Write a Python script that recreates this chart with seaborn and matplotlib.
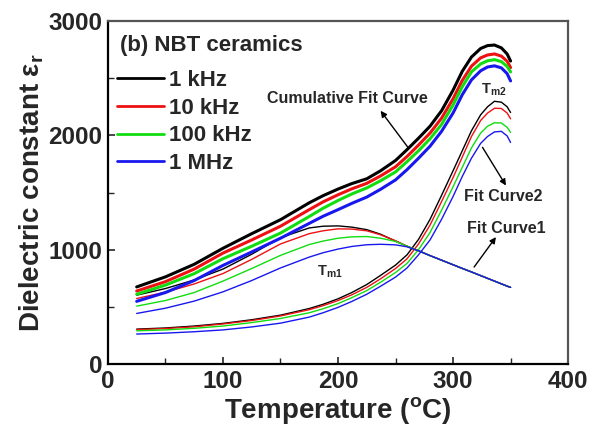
import matplotlib
matplotlib.use("Agg")
import matplotlib.pyplot as plt
import seaborn as sns
import pandas as pd
from matplotlib.lines import Line2D
from matplotlib.ticker import MultipleLocator

# ---------------- data ----------------
temperature = [25, 50, 75, 100, 125, 150, 175, 187, 200, 212, 225, 237, 250,
               260, 270, 280, 290, 300, 308, 316, 324, 330, 336, 342, 347, 350]

frequencies = ["1 kHz", "10 kHz", "100 kHz", "1 MHz"]

cum_1k   = [674, 762, 872, 1012, 1140, 1262, 1410, 1472, 1530, 1578, 1620, 1690, 1780, 1875, 1975, 2080, 2215, 2395, 2560, 2685, 2760, 2785, 2790, 2765, 2712, 2650]
cum_10k  = [638, 720, 830, 970, 1085, 1205, 1350, 1418, 1480, 1532, 1580, 1645, 1725, 1815, 1915, 2020, 2150, 2320, 2480, 2605, 2678, 2703, 2712, 2693, 2648, 2593]
cum_100k = [610, 690, 790, 921, 1030, 1145, 1290, 1362, 1430, 1487, 1540, 1603, 1680, 1770, 1865, 1970, 2095, 2265, 2425, 2555, 2625, 2652, 2662, 2645, 2603, 2555]
cum_1M   = [548, 625, 730, 862, 980, 1100, 1230, 1292, 1350, 1405, 1460, 1528, 1610, 1700, 1800, 1905, 2035, 2195, 2355, 2485, 2565, 2598, 2608, 2590, 2540, 2476]

fit1_1k   = [602, 660, 735, 830, 960, 1105, 1190, 1205, 1208, 1197, 1175, 1135, 1075, 1030, 990, 948, 908, 868, 836, 805, 773, 749, 725, 701, 681, 670]
fit1_10k  = [573, 628, 700, 791, 915, 1050, 1140, 1165, 1182, 1180, 1165, 1130, 1078, 1030, 990, 948, 908, 868, 836, 805, 773, 749, 725, 701, 681, 670]
fit1_100k = [506, 555, 625, 725, 835, 950, 1045, 1075, 1100, 1112, 1115, 1100, 1072, 1030, 990, 948, 908, 868, 836, 805, 773, 749, 725, 701, 681, 670]
fit1_1M   = [442, 488, 550, 631, 730, 840, 935, 973, 1005, 1028, 1043, 1047, 1042, 1025, 990, 948, 908, 868, 836, 805, 773, 749, 725, 701, 681, 670]

fit2_1k   = [305, 315, 332, 355, 387, 427, 485, 522, 570, 625, 695, 775, 865, 955, 1090, 1265, 1475, 1690, 1865, 2040, 2180, 2250, 2298, 2290, 2250, 2200]
fit2_10k  = [300, 310, 325, 350, 380, 420, 475, 510, 555, 605, 670, 745, 835, 920, 1050, 1215, 1420, 1630, 1810, 1990, 2130, 2195, 2237, 2235, 2195, 2145]
fit2_100k = [290, 298, 312, 332, 362, 398, 448, 483, 528, 580, 642, 715, 800, 880, 1000, 1150, 1345, 1550, 1720, 1890, 2020, 2080, 2110, 2108, 2070, 2026]
fit2_1M   = [262, 270, 282, 298, 324, 357, 410, 448, 495, 547, 610, 680, 760, 840, 955, 1085, 1265, 1465, 1640, 1800, 1930, 1990, 2030, 2035, 1995, 1938]

x_ticks = [0, 100, 200, 300, 400]
y_ticks = [0, 1000, 2000, 3000]

# ---------------- style ----------------
sns.set_style("ticks")
plt.rcParams["font.family"] = ["Liberation Sans", "DejaVu Sans"]
plt.rcParams["mathtext.fontset"] = "custom"
plt.rcParams["mathtext.rm"] = "Liberation Sans"
plt.rcParams["mathtext.bf"] = "Liberation Sans:bold"
plt.rcParams["mathtext.it"] = "Liberation Sans:italic"

colors = ["#000000", "#ee1111", "#11dd11", "#1818ee"]

fig = plt.figure(figsize=(5.93, 4.38), dpi=100)
ax = fig.add_axes([0.182, 0.169, 0.776, 0.783])

cums = [cum_1k, cum_10k, cum_100k, cum_1M]
fit1s = [fit1_1k, fit1_10k, fit1_100k, fit1_1M]
fit2s = [fit2_1k, fit2_10k, fit2_100k, fit2_1M]

for f, c, y1, y2, yc in zip(frequencies, colors, fit1s, fit2s, cums):
    df = pd.DataFrame({"T": temperature, "cum": yc, "fit1": y1, "fit2": y2})
    sns.lineplot(data=df, x="T", y="fit2", ax=ax, color=c, lw=1.0, sort=False)
    sns.lineplot(data=df, x="T", y="fit1", ax=ax, color=c, lw=1.0, sort=False)
    sns.lineplot(data=df, x="T", y="cum", ax=ax, color=c, lw=2.2, sort=False)

ax.set_xlim(0, 400)
ax.set_ylim(0, 3000)
ax.set_xticks(x_ticks)
ax.set_yticks(y_ticks)
ax.xaxis.set_minor_locator(MultipleLocator(50))
ax.yaxis.set_minor_locator(MultipleLocator(500))
ax.tick_params(which="major", direction="in", length=5, width=1.2,
               labelsize=17.5, pad=4)
ax.tick_params(which="minor", direction="in", length=4, width=1.0)
for lab in ax.get_xticklabels() + ax.get_yticklabels():
    lab.set_fontweight("bold")

for s in ["left", "bottom"]:
    ax.spines[s].set_color("black")
    ax.spines[s].set_linewidth(1.6)
for s in ["top", "right"]:
    ax.spines[s].set_color("#555555")
    ax.spines[s].set_linewidth(1.6)

ax.set_xlabel("Temperature ($\\mathregular{^{o}}$C)", fontsize=20,
              fontweight="bold", labelpad=2)
ax.set_ylabel("Dielectric constant $\\mathregular{\\varepsilon_{r}}$",
              fontsize=20, fontweight="bold", labelpad=2)

# legend
handles = [Line2D([0], [0], color=c, lw=2.0) for c in colors]
leg = ax.legend(handles, frequencies, loc="upper left",
                bbox_to_anchor=(0.02, 0.857), frameon=False,
                prop={"weight": "bold", "size": 16},
                handlelength=2.1, handletextpad=0.25, labelspacing=0.3,
                borderaxespad=0.0, borderpad=0.0)

ax.text(10.5, 2782, "(b) NBT ceramics", fontsize=16, fontweight="bold",
        ha="left", va="center")

# annotations
ax.text(208, 2320, "Cumulative Fit Curve", fontsize=11.5, fontweight="bold",
        ha="center", va="center")
ax.annotate("", xy=(237, 2215), xytext=(261, 1892),
            arrowprops=dict(arrowstyle="-|>", color="black", lw=1.0,
                            mutation_scale=9, shrinkA=0, shrinkB=0))
ax.text(335, 2398, "T$\\mathregular{_{m2}}$", fontsize=10.5, fontweight="bold",
        ha="center", va="center")
ax.text(193, 802, "T$\\mathregular{_{m1}}$", fontsize=10.5, fontweight="bold",
        ha="center", va="center")
ax.text(344, 1465, "Fit Curve2", fontsize=11.5, fontweight="bold",
        ha="center", va="center")
ax.annotate("", xy=(346, 1561), xytext=(325.6, 1895),
            arrowprops=dict(arrowstyle="-|>", color="black", lw=1.0,
                            mutation_scale=9, shrinkA=0, shrinkB=0))
ax.text(346, 1186, "Fit Curve1", fontsize=11.5, fontweight="bold",
        ha="center", va="center")
ax.annotate("", xy=(337.3, 1110), xytext=(318.3, 848),
            arrowprops=dict(arrowstyle="-|>", color="black", lw=1.0,
                            mutation_scale=9, shrinkA=0, shrinkB=0))

fig.savefig("out.png", dpi=100)
